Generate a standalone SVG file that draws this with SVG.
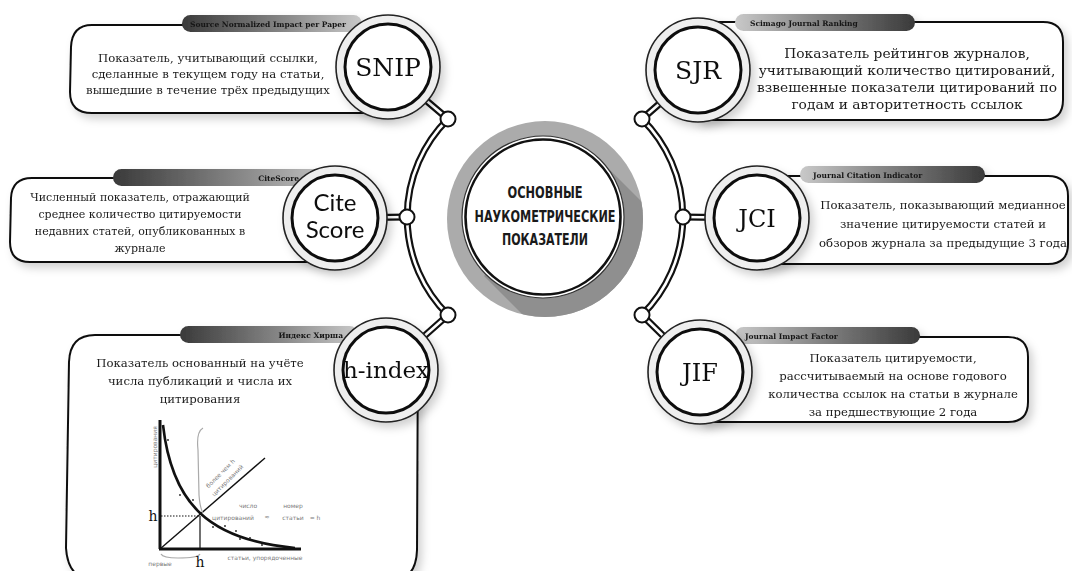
<svg xmlns="http://www.w3.org/2000/svg" width="1072" height="571" viewBox="0 0 1072 571">
<defs>
<style>
.box{fill:#fff;stroke:#111;stroke-width:2}
.ro{fill:#eeeeee;stroke:#222;stroke-width:1.6}
.ri{fill:#fff;stroke:#111;stroke-width:3}
.jn{fill:#fff;stroke:#111;stroke-width:2}
.pipe{fill:none;stroke:#111;stroke-width:7}
.pipew{fill:none;stroke:#fff;stroke-width:2.6}
.t{font-family:"DejaVu Serif","Liberation Serif",serif;font-size:11.7px;fill:#1a1a1a;text-anchor:middle}
.bn{font-family:"DejaVu Serif","Liberation Serif",serif;font-size:7.5px;font-weight:bold;fill:#151515}
.lbl{font-family:"DejaVu Serif","Liberation Serif",serif;fill:#111;text-anchor:middle}
.ctr{font-family:"DejaVu Sans Condensed","DejaVu Sans",sans-serif;font-weight:bold;font-size:16px;fill:#1a1a1a;text-anchor:middle}
.g{font-family:"DejaVu Sans",sans-serif;font-size:6px;fill:#7a7a7a}
</style>
<linearGradient id="bL" x1="0" y1="0" x2="1" y2="0"><stop offset="0" stop-color="#3a3a3a"/><stop offset="0.6" stop-color="#8c8c8c"/><stop offset="1" stop-color="#c9c9c9"/></linearGradient>
<linearGradient id="bR" x1="1" y1="0" x2="0" y2="0"><stop offset="0" stop-color="#3a3a3a"/><stop offset="0.6" stop-color="#8c8c8c"/><stop offset="1" stop-color="#c9c9c9"/></linearGradient>
<filter id="sh" x="-20%" y="-20%" width="150%" height="150%"><feDropShadow dx="4" dy="5" stdDeviation="4" flood-color="#000" flood-opacity="0.18"/></filter>
<clipPath id="ringClip"><circle cx="545" cy="219" r="98"/></clipPath>
</defs>
<rect width="1072" height="571" fill="#fff"/>

<!-- boxes -->
<g id="box-snip" filter="url(#sh)">
<path class="box" d="M388,25 L92,25 Q72,25 71,47 L70,92 Q70,113 92,113 L388,113 Z"/>
<rect x="182" y="15" width="180" height="17" rx="8.5" fill="url(#bL)"/>
<text class="bn" x="346" y="26.5" text-anchor="end">Source Normalized Impact per Paper</text>
<text class="t" x="208" y="62">Показатель, учитывающий ссылки,</text>
<text class="t" x="208" y="78">сделанные в текущем году на статьи,</text>
<text class="t" x="208" y="94">вышедшие в течение трёх предыдущих</text>
</g>
<g id="box-sjr" filter="url(#sh)">
<path class="box" d="M698,22 L1043,22 Q1063,22 1063,42 L1063,100 Q1063,120 1043,120 L698,120 Z"/>
<rect x="735" y="14" width="180" height="17" rx="8.5" fill="url(#bR)"/>
<text class="bn" x="750" y="25.5">Scimago Journal Ranking</text>
<text class="t" x="907" y="58" style="font-size:13.8px">Показатель рейтингов журналов,</text>
<text class="t" x="907" y="75" style="font-size:13.8px">учитывающий количество цитирований,</text>
<text class="t" x="907" y="92" style="font-size:13.8px">взвешенные показатели цитирований по</text>
<text class="t" x="907" y="109" style="font-size:13.8px">годам и авторитетность ссылок</text>
</g>
<g id="box-cite" filter="url(#sh)">
<path class="box" d="M335,178 L32,178 Q12,178 11,198 L10,242 Q10,262 30,262 L335,262 Z"/>
<rect x="113" y="169" width="225" height="17" rx="8.5" fill="url(#bL)"/>
<text class="bn" x="299" y="180.5" text-anchor="end">CiteScore</text>
<text class="t" x="140" y="201" style="font-size:11px">Численный показатель, отражающий</text>
<text class="t" x="140" y="218" style="font-size:11px">среднее количество цитируемости</text>
<text class="t" x="140" y="235" style="font-size:11px">недавних статей, опубликованных в</text>
<text class="t" x="140" y="252" style="font-size:11px">журнале</text>
</g>
<g id="box-jci" filter="url(#sh)">
<path class="box" d="M757,176 L1048,176 Q1068,176 1068,196 L1068,244 Q1068,264 1048,264 L757,264 Z"/>
<rect x="800" y="166" width="185" height="17" rx="8.5" fill="url(#bR)"/>
<text class="bn" x="813" y="177.5">Journal Citation Indicator</text>
<text class="t" x="943" y="209">Показатель, показывающий медианное</text>
<text class="t" x="943" y="228">значение цитируемости статей и</text>
<text class="t" x="943" y="247">обзоров журнала за предыдущие 3 года</text>
</g>
<g id="box-h" filter="url(#sh)">
<path class="box" d="M386,335 L95,335 Q70,335 69,362 L66,548 Q68,580 95,580 L392,580 Q416,580 417,550 L418,335 Z"/>
<rect x="180" y="326" width="178" height="17" rx="8.5" fill="url(#bL)"/>
<text class="bn" x="343" y="337.5" text-anchor="end">Индекс Хирша</text>
<text class="t" x="200" y="367">Показатель основанный на учёте</text>
<text class="t" x="200" y="385">числа публикаций и числа их</text>
<text class="t" x="200" y="403">цитирования</text>
</g>
<g id="box-jif" filter="url(#sh)">
<path class="box" d="M700,337 L1008,337 Q1028,337 1028,357 L1028,402 Q1028,422 1008,422 L700,422 Z"/>
<rect x="735" y="327" width="185" height="17" rx="8.5" fill="url(#bR)"/>
<text class="bn" x="745" y="338.5">Journal Impact Factor</text>
<text class="t" x="893" y="362">Показатель цитируемости,</text>
<text class="t" x="893" y="380">рассчитываемый на основе годового</text>
<text class="t" x="893" y="398">количества ссылок на статьи в журнале</text>
<text class="t" x="893" y="416">за предшествующие 2 года</text>
</g>

<!-- h-index graph -->
<g id="h-graph">
<line x1="160" y1="420" x2="160" y2="549" stroke="#111" stroke-width="3"/>
<line x1="159" y1="549" x2="301" y2="549" stroke="#111" stroke-width="3"/>
<line x1="160" y1="549" x2="265" y2="458" stroke="#111" stroke-width="1.4"/>
<path d="M163,425 C172,505 210,540 295,548" fill="none" stroke="#111" stroke-width="2.6"/>
<line x1="161" y1="516" x2="200" y2="516" stroke="#111" stroke-width="1.2" stroke-dasharray="1.5 1.5"/>
<line x1="200" y1="516" x2="200" y2="549" stroke="#111" stroke-width="1.2"/>
<path d="M203,428 Q196,432 198,450 L199,495 Q200,508 203,513" fill="none" stroke="#aaa" stroke-width="1.2"/>
<path d="M161,554 Q163,558 178,558 Q198,558 200,554" fill="none" stroke="#aaa" stroke-width="1.2"/>
<g fill="#222">
<circle cx="168" cy="440" r="0.9"/><circle cx="180" cy="495" r="0.9"/><circle cx="193" cy="500" r="0.9"/><circle cx="213" cy="527" r="0.9"/><circle cx="225" cy="526" r="0.9"/><circle cx="236" cy="531" r="0.9"/><circle cx="240" cy="539" r="0.9"/><circle cx="250" cy="538" r="0.9"/><circle cx="262" cy="545" r="0.9"/>
</g>
<text x="153" y="521" style="font-family:'DejaVu Serif',serif;font-size:14px;fill:#111" text-anchor="middle">h</text>
<text x="200" y="567" style="font-family:'DejaVu Serif',serif;font-size:14px;fill:#111" text-anchor="middle">h</text>
<text class="g" transform="translate(157,447) rotate(-90)" text-anchor="middle">цитирования</text>
<text class="g" transform="translate(222,475) rotate(-45)" text-anchor="middle">более чем h</text>
<text class="g" transform="translate(229,482) rotate(-45)" text-anchor="middle">цитирований</text>
<text class="g" x="248" y="508" text-anchor="middle">число</text>
<text class="g" x="233" y="520" text-anchor="middle">цитирований</text>
<text class="g" x="267" y="519" text-anchor="middle">≈</text>
<text class="g" x="293" y="508" text-anchor="middle">номер</text>
<text class="g" x="293" y="520" text-anchor="middle">статьи</text>
<text class="g" x="315" y="520" text-anchor="middle">= h</text>
<text class="g" x="160" y="566" text-anchor="middle">первые</text>
<text class="g" x="265" y="560" text-anchor="middle">статьи, упорядоченные</text>
</g>

<!-- connectors -->
<g id="connectors">
<path class="pipe" d="M448,119 A138,138 0 0 0 448,315"/>
<path class="pipe" d="M642,119 A138,138 0 0 1 642,315"/>
<path class="pipe" d="M448,119 L388,68 M407,217 L335,218 M448,315 L386,370 M642,119 L698,70 M683,217 L757,218 M642,315 L700,372"/>
<path class="pipew" d="M448,119 A138,138 0 0 0 448,315"/>
<path class="pipew" d="M642,119 A138,138 0 0 1 642,315"/>
<path class="pipew" d="M448,119 L388,68 M407,217 L335,218 M448,315 L386,370 M642,119 L698,70 M683,217 L757,218 M642,315 L700,372"/>
<circle class="jn" cx="448" cy="119" r="7.5"/>
<circle class="jn" cx="407" cy="217" r="7.5"/>
<circle class="jn" cx="448" cy="315" r="7.5"/>
<circle class="jn" cx="642" cy="119" r="7.5"/>
<circle class="jn" cx="683" cy="217" r="7.5"/>
<circle class="jn" cx="642" cy="315" r="7.5"/>
</g>

<!-- nodes -->
<g id="node-snip" filter="url(#sh)"><circle class="ro" cx="388" cy="67" r="52"/><circle class="ri" cx="388" cy="67" r="43"/><text class="lbl" x="388" y="76" font-size="25">SNIP</text></g>
<g id="node-sjr" filter="url(#sh)"><circle class="ro" cx="698" cy="70" r="52"/><circle class="ri" cx="698" cy="70" r="43"/><text class="lbl" x="698" y="79" font-size="25">SJR</text></g>
<g id="node-cite" filter="url(#sh)"><circle class="ro" cx="335" cy="218" r="52"/><circle class="ri" cx="335" cy="218" r="43"/><text class="lbl" x="335" y="211" font-size="24" style="font-family:Lato,'Open Sans',sans-serif">Cite</text><text class="lbl" x="335" y="238" font-size="24" style="font-family:Lato,'Open Sans',sans-serif">Score</text></g>
<g id="node-jci" filter="url(#sh)"><circle class="ro" cx="757" cy="218" r="52"/><circle class="ri" cx="757" cy="218" r="43"/><text class="lbl" x="757" y="227" font-size="24">JCI</text></g>
<g id="node-h" filter="url(#sh)"><circle class="ro" cx="386" cy="370" r="52"/><circle class="ri" cx="386" cy="370" r="43"/><text class="lbl" x="386" y="378" font-size="23">h-index</text></g>
<g id="node-jif" filter="url(#sh)"><circle class="ro" cx="700" cy="372" r="52"/><circle class="ri" cx="700" cy="372" r="43"/><text class="lbl" x="700" y="381" font-size="24">JIF</text></g>

<!-- center -->
<g id="center">
<circle cx="545" cy="219" r="98" fill="#ababab"/>
<path d="M600,160 L800,360 L684,476 L484,276 Z" fill="#8f8f8f" clip-path="url(#ringClip)"/>
<circle cx="543" cy="217" r="81" fill="#fff" stroke="#333" stroke-width="1.2"/>
<circle cx="543" cy="217" r="77.5" fill="#fff" stroke="#111" stroke-width="2.6"/>
<text class="ctr" x="545" y="198" textLength="75" lengthAdjust="spacingAndGlyphs">ОСНОВНЫЕ</text>
<text class="ctr" x="545" y="222" textLength="141" lengthAdjust="spacingAndGlyphs">НАУКОМЕТРИЧЕСКИЕ</text>
<text class="ctr" x="545" y="245" textLength="86" lengthAdjust="spacingAndGlyphs">ПОКАЗАТЕЛИ</text>
</g>
</svg>
